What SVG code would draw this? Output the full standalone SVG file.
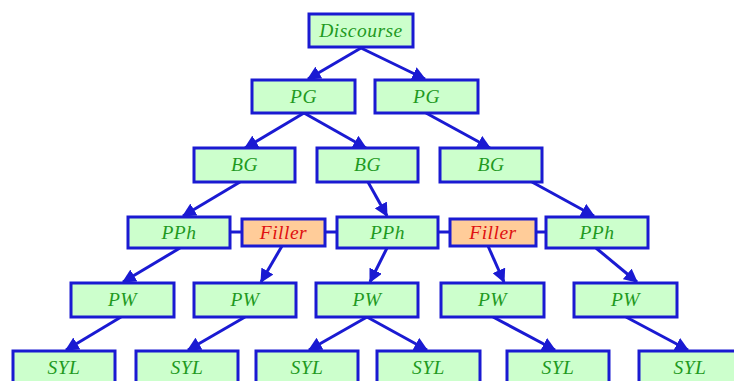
<svg xmlns="http://www.w3.org/2000/svg" width="734" height="381" viewBox="0 0 734 381">
<defs>
<marker id="ah" viewBox="0 0 12 12" refX="11" refY="6" markerWidth="4.6" markerHeight="4.6" markerUnits="strokeWidth" orient="auto">
<path d="M0,0 L12,6 L0,12 z" fill="#1a1ad2"/>
</marker>
<style>
.n rect{fill:#ccffcc;stroke:#1a1ad2;stroke-width:3}
.f rect{fill:#ffcc99;stroke:#1a1ad2;stroke-width:3}
text{font-family:"Liberation Serif","DejaVu Serif",serif;font-style:italic;font-size:19.5px;text-anchor:middle;letter-spacing:0.5px}
.n text{fill:#1f9a1f}
.f text{fill:#e01010}
.c line{stroke:#1a1ad2;stroke-width:3}
.c line.a{marker-end:url(#ah)}
</style>
</defs>
<rect width="734" height="381" fill="#ffffff"/>
<g class="c">
<line class="a" x1="361" y1="48" x2="308" y2="79"/>
<line class="a" x1="361" y1="48" x2="425" y2="79"/>
<line class="a" x1="304" y1="113" x2="245" y2="148"/>
<line class="a" x1="304" y1="113" x2="366" y2="148"/>
<line class="a" x1="426" y1="113" x2="490" y2="148"/>
<line class="a" x1="240" y1="182" x2="183" y2="216"/>
<line class="a" x1="368" y1="182" x2="387" y2="216"/>
<line class="a" x1="532" y1="182" x2="594" y2="216"/>
<line x1="230" y1="232" x2="242" y2="232"/>
<line x1="325" y1="232" x2="337" y2="232"/>
<line x1="438" y1="232" x2="450" y2="232"/>
<line x1="536" y1="232" x2="546" y2="232"/>
<line class="a" x1="180" y1="248" x2="123" y2="282"/>
<line class="a" x1="282" y1="246" x2="261" y2="282"/>
<line class="a" x1="387" y1="248" x2="370" y2="282"/>
<line class="a" x1="488" y1="246" x2="504" y2="282"/>
<line class="a" x1="596" y1="248" x2="637" y2="282"/>
<line class="a" x1="121" y1="317" x2="66" y2="350"/>
<line class="a" x1="245" y1="317" x2="188" y2="350"/>
<line class="a" x1="367" y1="317" x2="309" y2="350"/>
<line class="a" x1="367" y1="317" x2="427" y2="350"/>
<line class="a" x1="493" y1="317" x2="555" y2="350"/>
<line class="a" x1="626" y1="317" x2="688" y2="350"/>
</g>
<g id="discourse" class="n"><rect x="309" y="14" width="104" height="33"/><text x="361" y="37">Discourse</text></g>
<g id="pg1" class="n"><rect x="252" y="80" width="103" height="33"/><text x="303.5" y="103">PG</text></g>
<g id="pg2" class="n"><rect x="375" y="80" width="103" height="33"/><text x="426.5" y="103">PG</text></g>
<g id="bg1" class="n"><rect x="194" y="148" width="101" height="34"/><text x="244.5" y="171">BG</text></g>
<g id="bg2" class="n"><rect x="317" y="148" width="101" height="34"/><text x="367.5" y="171">BG</text></g>
<g id="bg3" class="n"><rect x="440" y="148" width="102" height="34"/><text x="491" y="171">BG</text></g>
<g id="pph1" class="n"><rect x="128" y="217" width="102" height="31"/><text x="179" y="239">PPh</text></g>
<g id="filler1" class="f"><rect x="242" y="219" width="83" height="27"/><text x="283.5" y="239">Filler</text></g>
<g id="pph2" class="n"><rect x="337" y="217" width="101" height="31"/><text x="387.5" y="239">PPh</text></g>
<g id="filler2" class="f"><rect x="450" y="219" width="86" height="27"/><text x="493" y="239">Filler</text></g>
<g id="pph3" class="n"><rect x="546" y="217" width="102" height="31"/><text x="597" y="239">PPh</text></g>
<g id="pw1" class="n"><rect x="71" y="283" width="103" height="34"/><text x="122.5" y="306">PW</text></g>
<g id="pw2" class="n"><rect x="194" y="283" width="102" height="34"/><text x="245" y="306">PW</text></g>
<g id="pw3" class="n"><rect x="316" y="283" width="102" height="34"/><text x="367" y="306">PW</text></g>
<g id="pw4" class="n"><rect x="441" y="283" width="103" height="34"/><text x="492.5" y="306">PW</text></g>
<g id="pw5" class="n"><rect x="574" y="283" width="103" height="34"/><text x="625.5" y="306">PW</text></g>
<g id="syl1" class="n"><rect x="13" y="351" width="102" height="34"/><text x="64" y="374">SYL</text></g>
<g id="syl2" class="n"><rect x="136" y="351" width="102" height="34"/><text x="187" y="374">SYL</text></g>
<g id="syl3" class="n"><rect x="256" y="351" width="102" height="34"/><text x="307" y="374">SYL</text></g>
<g id="syl4" class="n"><rect x="377" y="351" width="103" height="34"/><text x="428.5" y="374">SYL</text></g>
<g id="syl5" class="n"><rect x="507" y="351" width="102" height="34"/><text x="558" y="374">SYL</text></g>
<g id="syl6" class="n"><rect x="639" y="351" width="102" height="34"/><text x="690" y="374">SYL</text></g>
</svg>
